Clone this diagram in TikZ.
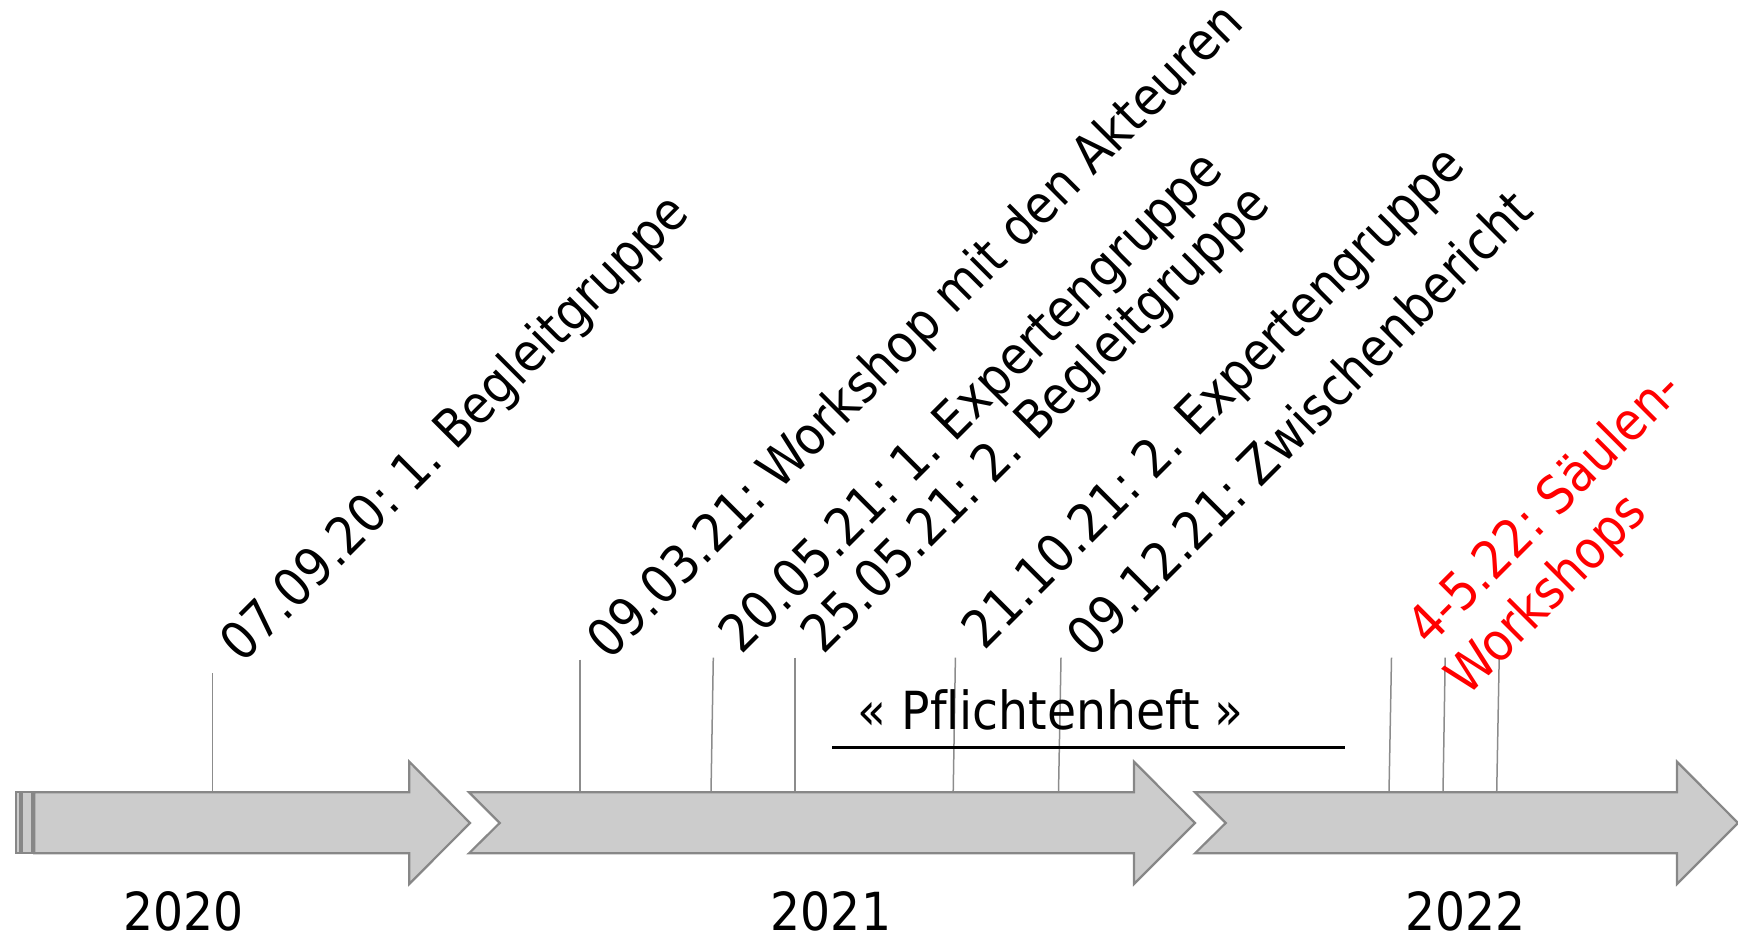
\documentclass[tikz,border=0pt]{standalone}
\usepackage{fontspec}
\setmainfont{DejaVu Sans Condensed}[Ligatures=NoCommon]
\frenchspacing
\begin{document}
\begin{tikzpicture}[x=1pt,y=-1pt,
  txt/.style={inner sep=0pt, font=\fontsize{52.5}{60}\selectfont},
  event/.style={txt, rotate=45, anchor=base west},
  yearlbl/.style={txt, anchor=base},
  tick/.style={draw=black!45, line width=1.5pt},
  band/.style={fill=black!20, draw=black!47, line width=2.2pt, line join=miter},
  phase/.style={draw=black, line width=3pt}]
\useasboundingbox (0,0) rectangle (1738,936);

% tick positions (top end, foot on the arrow band)
\coordinate (t1) at (212.7,673);   \coordinate (b1) at (212.7,792.3);
\coordinate (t2) at (580,659.5);   \coordinate (b2) at (580,792.3);
\coordinate (t3) at (713.3,657.7); \coordinate (b3) at (711,792.3);
\coordinate (t4) at (795,657.7);   \coordinate (b4) at (795,792.3);
\coordinate (t5) at (955.4,657.7); \coordinate (b5) at (953.2,792.3);
\coordinate (t6) at (1061,657.7);  \coordinate (b6) at (1058.5,792.3);
\coordinate (t7) at (1391.5,657.7); \coordinate (b7) at (1389,792.3);
\coordinate (t8) at (1445.2,657.7); \coordinate (b8) at (1443,792.3);
\coordinate (t9) at (1499.2,657.7); \coordinate (b9) at (1496.7,792.3);

\foreach \i in {1,...,9} \draw[tick] (t\i) -- (b\i);

% year arrows
\path[band] (15.7,792.3) rectangle (20,853.3);
\path[band] (22.3,792.3) rectangle (32.3,853.3);
\path[band] (34.3,792.3) -- (409.3,792.3) -- (409.3,761.7) -- (470,823)
  -- (409.3,884) -- (409.3,853.3) -- (34.3,853.3) -- cycle;
\path[band] (469,792.3) -- (1134,792.3) -- (1134,761.7) -- (1195,823)
  -- (1134,884) -- (1134,853.3) -- (469,853.3) -- (499.7,823) -- cycle;
\path[band] (1195,792.3) -- (1677,792.3) -- (1677,761.7) -- (1738,823)
  -- (1677,884) -- (1677,853.3) -- (1195,853.3) -- (1225.7,823) -- cycle;

% years
\node[yearlbl] (y20) at (183.8,930) {2020};
\node[yearlbl] (y21) at (831,930) {2021};
\node[yearlbl] (y22) at (1465.6,930) {2022};

% Pflichtenheft phase
\coordinate (pa) at (832,747);
\coordinate (pb) at (1345,747);
\draw[phase] (pa) -- (pb);
\node[txt, anchor=base] (pf) at (1050.7,729.5) {« Pflichtenheft »};

% events
\node[event] (e1) at (242.4,665) {07.09.20: 1. Begleitgruppe};
\node[event] (e2) at (609,661.7) {09.03.21: Workshop mit den Akteuren};
\node[event] (e3) at (741.4,656.1) {20.05.21: 1. Expertengruppe};
\node[event] (e4) at (823,656) {25.05.21: 2. Begleitgruppe};
\node[event] (e5) at (984,651.7) {21.10.21: 2. Expertengruppe};
\node[event] (e6) at (1089.6,659.4) {09.12.21: Zwischenbericht};
\node[event, text=red] (e7) at (1429,647.7) {4-5.22: Säulen-};
\node[event, text=red] (e7b) at (1467.2,697.2) {Workshops};
\end{tikzpicture}
\end{document}
